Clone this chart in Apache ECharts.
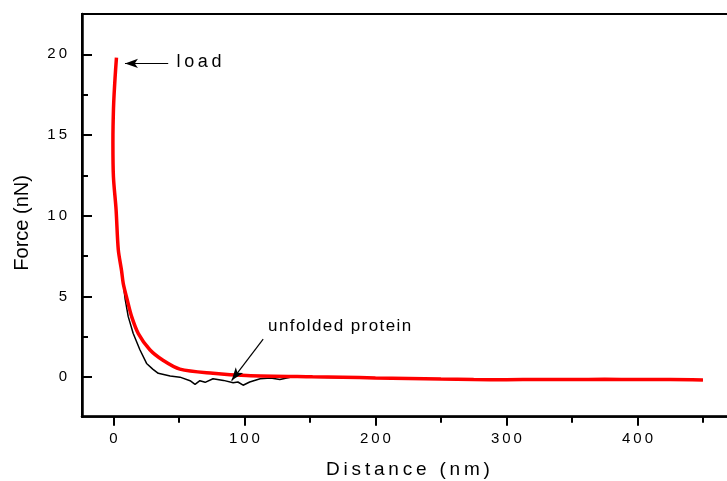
<!DOCTYPE html>
<html>
<head>
<meta charset="utf-8">
<script src="https://cdn.jsdelivr.net/npm/echarts@6/dist/echarts.min.js"></script>
<style>
  html, body { margin: 0; padding: 0; background: #fff; }
  #chart { width: 727px; height: 481px; }
</style>
</head>
<body>
<div id="chart"></div>
<script>
// force curves (distance nm, force nN)
const loadDist  = [2.3, 1.2, 0.2, -0.3, -0.4, 0, 2, 3.7, 6.2, 7.5, 10.5, 13.9, 19, 27.8, 37.8, 50.7, 76, 101.6, 152, 175, 200, 225, 250, 275, 300, 325, 350, 375, 400, 425, 450];
const loadForce = [19.8, 18.5, 17, 15.5, 14.5, 12.4, 10.4, 7.9, 6.6, 5.8, 4.8, 3.75, 2.7, 1.7, 1.05, 0.5, 0.24, 0.1, 0.02, 0, -0.05, -0.08, -0.12, -0.15, -0.16, -0.14, -0.15, -0.13, -0.15, -0.14, -0.17];

const unfoldDist  = [0, 2, 3.5, 6, 7.5, 9, 11.3, 15.1, 20.2, 25.3, 30, 34.2, 43.3, 50.8, 58.5, 62.3, 66, 70, 76, 84, 91.4, 95, 99, 104, 112, 120, 127, 135, 150, 200, 250, 300, 350, 400, 450];
const unfoldForce = [12.4, 10.4, 8, 6.6, 5.8, 4.8, 3.75, 2.7, 1.7, 0.85, 0.5, 0.24, 0.07, 0, -0.22, -0.45, -0.22, -0.32, -0.1, -0.2, -0.35, -0.3, -0.5, -0.3, -0.1, -0.05, -0.15, 0, 0, -0.06, -0.13, -0.17, -0.16, -0.16, -0.18];

const xMajor = [0, 100, 200, 300, 400];
const xMinor = [50, 150, 250, 350, 450];
const yMajor = [0, 5, 10, 15, 20];
const yMinor = [2.5, 7.5, 12.5, 17.5];

const FONT = "'Liberation Sans', Arial, sans-serif";
const GRID_W = 652;
// spread letters a bit, like the original figure's lettering
function spaced(s, gap) { return String(s).split('').join(gap || '\u2009'); }
function pairs(xs, ys) { return xs.map((x, i) => [x, ys[i]]); }

const chart = echarts.init(document.getElementById('chart'));

const xBase = {
  type: 'value', gridIndex: 0, position: 'bottom', min: -24, max: 473.7,
  splitLine: { show: false }
};
const yBase = {
  type: 'value', gridIndex: 0, min: -2.45, max: 22.5,
  splitLine: { show: false }
};
// y ticks point into the plot: draw them from a right-side axis moved onto the left edge
const yTickAxis = (vals, len) => Object.assign({}, yBase, {
  position: 'right', offset: -GRID_W,
  axisLine: { show: false, onZero: false },
  axisTick: { customValues: vals, length: len, lineStyle: { color: '#000', width: 2 } },
  axisLabel: { show: false }
});

chart.setOption({
  animation: false,
  grid: {
    left: 82, top: 14, width: GRID_W, height: 402.7, containLabel: false, outerBoundsMode: 'none',
    show: true, borderColor: '#000', borderWidth: 2, backgroundColor: 'transparent'
  },
  xAxis: [
    Object.assign({}, xBase, {
      name: spaced('Distance (nm)'), nameLocation: 'middle', nameGap: 44,
      nameTextStyle: { fontFamily: FONT, fontSize: 19, color: '#000' },
      axisLine: { onZero: false, lineStyle: { color: '#000', width: 2.5 } },
      axisTick: { customValues: xMajor, length: 9, lineStyle: { color: '#000', width: 2 } },
      axisLabel: { customValues: xMajor, margin: 15, fontFamily: FONT, fontSize: 15, color: '#000', formatter: v => spaced(v) }
    }),
    Object.assign({}, xBase, {
      axisLine: { show: false, onZero: false },
      axisTick: { customValues: xMinor, length: 6, lineStyle: { color: '#000', width: 2 } },
      axisLabel: { show: false }
    })
  ],
  yAxis: [
    Object.assign({}, yBase, {
      position: 'left',
      name: 'Force (nN)', nameLocation: 'middle', nameGap: 50,
      nameTextStyle: { fontFamily: FONT, fontSize: 20, color: '#000', padding: [0, 15, 0, 0] },
      axisLine: { onZero: false, lineStyle: { color: '#000', width: 2.5 } },
      axisTick: { show: false },
      axisLabel: { customValues: yMajor, margin: 15, fontFamily: FONT, fontSize: 15, color: '#000', formatter: v => spaced(v) }
    }),
    yTickAxis(yMajor, 10),
    yTickAxis(yMinor, 6)
  ],
  series: [
    {
      name: 'unfolded', type: 'line', xAxisIndex: 0, yAxisIndex: 0,
      data: pairs(unfoldDist, unfoldForce), showSymbol: false, smooth: false,
      lineStyle: { color: '#000', width: 1.5 }, silent: true
    },
    {
      name: 'load', type: 'line', xAxisIndex: 0, yAxisIndex: 0,
      data: pairs(loadDist, loadForce), showSymbol: false, smooth: 0.3,
      lineStyle: { color: '#ff0000', width: 3.5 }, silent: true,
      markLine: {
        silent: true, animation: false,
        label: { show: false },
        lineStyle: { color: '#000', width: 1.2, type: 'solid' },
        data: [
          [{ coord: [41.8, 19.44], symbol: 'none' }, { coord: [8.8, 19.44], symbol: 'arrow', symbolSize: [7, 13] }],
          [{ coord: [114.3, 2.36], symbol: 'none' }, { coord: [90.2, -0.21], symbol: 'arrow', symbolSize: [7, 13] }]
        ]
      },
      markPoint: {
        silent: true, animation: false,
        symbol: 'circle', symbolSize: 0,
        label: { show: true, position: 'right', distance: 0, fontFamily: FONT, color: '#000' },
        data: [
          { name: 'load', coord: [48.2, 19.5], label: { fontSize: 18, formatter: spaced('load') } },
          { name: 'unfolded protein', coord: [118, 3.17], label: { fontSize: 17, formatter: spaced('unfolded protein', '\u200A') } }
        ]
      }
    }
  ]
});
</script>
</body>
</html>
